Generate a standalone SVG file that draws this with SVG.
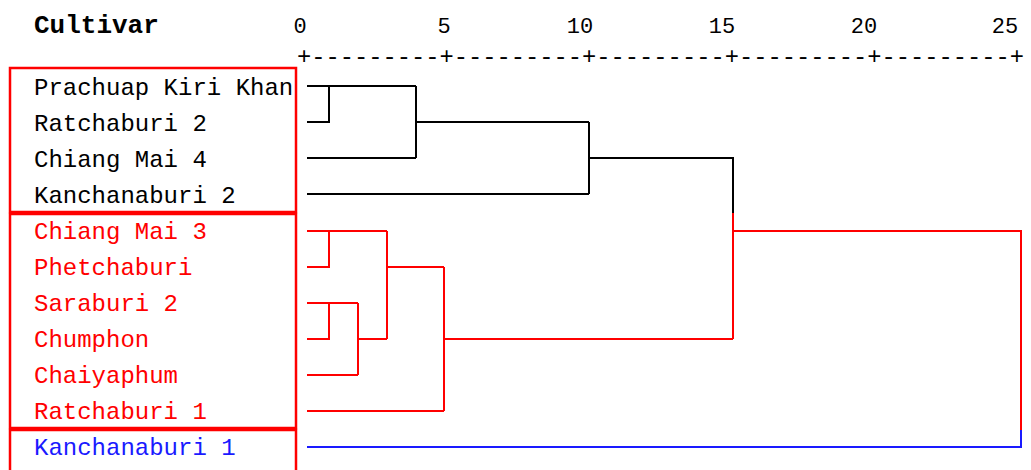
<svg xmlns="http://www.w3.org/2000/svg" width="1031" height="470" viewBox="0 0 1031 470">
<style>
text{font-family:"Liberation Mono","Courier New",monospace;font-size:24px}
.hdr{font-weight:bold;font-size:26px;fill:#000}
.ax{fill:#000;font-size:22px}
.k{fill:#000}.r{fill:#ff0000}.b{fill:#1a1aff}
.lk{stroke:#000;stroke-width:2;fill:none}
.lr{stroke:#ff0000;stroke-width:2;fill:none}
.lb{stroke:#1a1aff;stroke-width:2;fill:none}
.box{stroke:#ff0000;stroke-width:2.5;fill:none}
</style>
<rect width="1031" height="470" fill="#fff"/>
<g id="header">
<text class="hdr" x="34" y="33">Cultivar</text>
<text class="ax" x="300" y="33" text-anchor="middle">0</text>
<text class="ax" x="444" y="33" text-anchor="middle">5</text>
<text class="ax" x="580" y="33" text-anchor="middle">10</text>
<text class="ax" x="722" y="33" text-anchor="middle">15</text>
<text class="ax" x="864" y="33" text-anchor="middle">20</text>
<text class="ax" x="1005" y="33" text-anchor="middle">25</text>
<text class="k" x="297" y="64" textLength="727" lengthAdjust="spacingAndGlyphs">+---------+---------+---------+---------+---------+</text>
</g>
<g id="boxes">
<rect class="box" x="10" y="68" width="286" height="144"/>
<rect class="box" x="10" y="214" width="286" height="214"/>
<rect class="box" x="10" y="430" width="286" height="60"/>
</g>
<g id="n1"><text class="k" x="34" y="95">Prachuap Kiri Khan</text></g>
<g id="n2"><text class="k" x="34" y="131">Ratchaburi 2</text></g>
<g id="n3"><text class="k" x="34" y="167">Chiang Mai 4</text></g>
<g id="n4"><text class="k" x="34" y="203">Kanchanaburi 2</text></g>
<g id="n5"><text class="r" x="34" y="239">Chiang Mai 3</text></g>
<g id="n6"><text class="r" x="34" y="275">Phetchaburi</text></g>
<g id="n7"><text class="r" x="34" y="311">Saraburi 2</text></g>
<g id="n8"><text class="r" x="34" y="347">Chumphon</text></g>
<g id="n9"><text class="r" x="34" y="383">Chaiyaphum</text></g>
<g id="n10"><text class="r" x="34" y="419">Ratchaburi 1</text></g>
<g id="n11"><text class="b" x="34" y="455">Kanchanaburi 1</text></g>
<g id="connectors">
<path class="lk" d="M307 86H416M307 122H329V86M416 86V158M307 158H416M416 122H589M589 122V194M307 194H589M589 158H733V213"/>
<path class="lr" d="M733 213V339M444 339H733M733 231H1021V430"/>
<path class="lr" d="M307 231H387M307 267H329V231M307 303H358M307 339H329V303M358 303V375M307 375H358M358 339H387M387 231V339M387 267H444M444 267V411M307 411H444"/>
<path class="lb" d="M307 447H1021V430"/>
</g>
</svg>
